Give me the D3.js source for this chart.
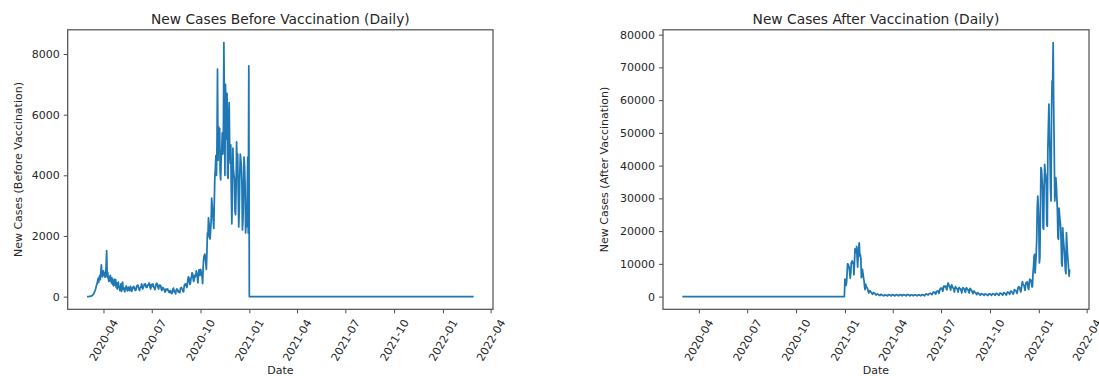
<!DOCTYPE html>
<html>
<head>
<meta charset="utf-8">
<script src="https://cdn.jsdelivr.net/npm/d3@7"></script>
<style>
  body { margin: 0; background: #ffffff; }
  svg text { font-family: "DejaVu Sans", "Liberation Sans", sans-serif; fill: #262626; }
</style>
</head>
<body>
<svg id="chart" width="1099" height="376"></svg>
<script>
// Daily new cases, one array per month (first value = 1st of the month)
const cases2020_03 = [0, 0, 2, 2, 4, 5, 9, 13, 18, 25, 38, 55, 78, 110, 150, 190, 240, 310, 380, 430, 520, 600, 470, 640, 700, 560, 820, 1050, 780, 650, 800];
const cases2020_04 = [850, 700, 780, 640, 720, 1000, 1520, 650, 800, 600, 500, 650, 520, 700, 560, 450, 620, 400, 520, 350, 580, 420, 380, 560, 300, 450, 250, 380, 480, 300];
const cases2020_05 = [330, 200, 260, 420, 170, 330, 480, 240, 300, 250, 160, 230, 300, 350, 260, 190, 210, 310, 260, 200, 280, 340, 230, 170, 210, 300, 280, 340, 300, 260, 200];
const cases2020_06 = [210, 300, 350, 380, 370, 300, 250, 200, 290, 300, 350, 420, 330, 250, 300, 350, 410, 380, 420, 330, 300, 300, 370, 380, 400, 450, 360, 300, 250, 400];
const cases2020_07 = [330, 380, 420, 370, 300, 280, 230, 310, 390, 440, 430, 390, 300, 250, 360, 380, 370, 350, 250, 200, 250, 300, 270, 250, 200, 150, 180, 250, 230, 220, 250];
const cases2020_08 = [200, 150, 180, 130, 200, 180, 120, 100, 150, 250, 280, 200, 150, 170, 90, 200, 250, 240, 220, 150, 180, 150, 130, 250, 290, 300, 250, 230, 170, 160, 320];
const cases2020_09 = [400, 370, 420, 400, 300, 350, 550, 650, 640, 500, 400, 450, 600, 650, 780, 770, 600, 500, 550, 700, 650, 690, 850, 750, 650, 450, 700, 880, 800, 700];
const cases2020_10 = [900, 850, 750, 650, 430, 1000, 1250, 1350, 1400, 1300, 1100, 900, 1450, 2100, 2000, 2600, 2400, 1950, 1900, 2200, 2500, 3250, 3000, 2800, 2500, 2250, 3150, 3950, 4200, 4650, 4000];
const cases2020_11 = [5000, 7500, 4500, 5600, 4900, 5550, 4100, 3850, 4600, 4850, 5400, 4700, 5100, 8380, 6300, 4000, 7000, 6100, 5200, 6700, 4000, 3900, 5900, 6400, 4800, 4400, 5000, 3500, 2400, 3300];
const cases2020_12 = [4900, 4200, 4000, 3900, 2800, 2700, 3500, 5100, 4200, 4700, 3500, 2300, 2800, 4000, 4700, 4500, 4300, 3800, 2200, 2500, 3400, 4600, 4300, 3700, 2100, 2500, 2300, 3300, 4600, 2100, 7610];
const cases2021_01 = [5300, 4600, 3400, 4100, 6900, 10000, 9900, 9400, 9000, 7300, 5600, 7300, 10400, 10700, 10900, 10200, 10300, 6700, 10400, 14600, 13500, 13600, 15300, 11700, 9000, 12900, 15100, 16400, 12400, 12800, 11700];
const cases2021_02 = [5800, 7900, 8300, 6900, 5800, 4900, 3000, 2100, 3800, 3300, 2900, 2600, 2300, 1500, 1100, 1700, 1800, 1500, 1400, 1200, 900, 700, 1000, 1200, 1100, 1000, 900, 600];
const cases2021_03 = [500, 700, 800, 700, 600, 500, 400, 300, 600, 700, 600, 500, 400, 300, 250, 350, 500, 400, 450, 400, 300, 200, 400, 600, 550, 500, 450, 300, 250, 400, 600];
const cases2021_04 = [500, 600, 400, 300, 200, 350, 550, 600, 550, 450, 350, 250, 400, 550, 600, 500, 550, 400, 250, 450, 600, 550, 500, 450, 300, 250, 400, 600, 650, 550];
const cases2021_05 = [500, 400, 250, 400, 550, 500, 500, 450, 300, 250, 450, 550, 500, 500, 400, 300, 250, 400, 550, 500, 550, 450, 300, 250, 450, 600, 550, 500, 500, 400, 250];
const cases2021_06 = [600, 700, 800, 750, 650, 500, 500, 850, 900, 950, 1000, 900, 700, 600, 1000, 1300, 1400, 1200, 1300, 900, 800, 1500, 1600, 1500, 1800, 1500, 1000, 1600, 2300, 2600];
const cases2021_07 = [2400, 2500, 2600, 1600, 2100, 3200, 3100, 3000, 3200, 3100, 2300, 2100, 3300, 4100, 3900, 3200, 3200, 2600, 2000, 3100, 3600, 3100, 2800, 2500, 2200, 1400, 2500, 3000, 2800, 2500, 2300];
const cases2021_08 = [2200, 1400, 2500, 2800, 2500, 2400, 2200, 1700, 1100, 2300, 2700, 2600, 2400, 2200, 1500, 1300, 2500, 2700, 2300, 2200, 2000, 1500, 1100, 2300, 2500, 2200, 1900, 1700, 1300, 900, 1500];
const cases2021_09 = [1700, 1500, 1300, 1100, 900, 600, 1100, 1200, 1000, 900, 800, 600, 400, 800, 900, 800, 700, 700, 500, 350, 650, 800, 750, 700, 600, 400, 300, 600, 800, 700];
const cases2021_10 = [800, 700, 550, 400, 700, 900, 850, 800, 700, 500, 400, 800, 1000, 900, 850, 700, 500, 400, 750, 1100, 1000, 950, 800, 600, 450, 850, 1200, 1100, 1000, 900, 600];
const cases2021_11 = [500, 1000, 1400, 1300, 1200, 1000, 700, 1200, 1700, 1600, 1500, 1300, 900, 800, 1400, 2100, 2000, 1900, 1800, 1300, 1000, 1800, 2700, 3000, 2900, 2700, 2000, 1400, 2300, 3600];
const cases2021_12 = [4600, 4000, 3600, 3400, 2800, 1900, 3300, 4300, 4000, 4500, 3800, 2500, 2200, 4300, 5300, 5000, 5100, 4100, 3000, 3000, 7100, 9000, 12300, 12900, 7200, 10000, 12800, 17100, 26900, 30700, 27100];
const cases2022_01 = [22000, 10300, 12000, 25800, 39400, 38900, 36000, 33000, 21000, 20600, 33000, 40400, 38000, 37000, 34000, 22000, 21500, 45000, 52000, 58800, 49000, 44000, 33000, 29200, 57000, 65900, 65000, 77600, 57700, 45000, 29200];
const cases2022_02 = [32000, 36300, 34000, 30000, 26000, 18000, 17500, 27000, 25000, 23000, 21500, 17000, 10000, 9300, 21000, 18000, 16000, 14000, 11000, 8000, 7000, 19500, 16000, 13000, 11000, 8500, 6200, 8300];

// Vaccination campaign start used to split the series
const vaccinationStart = "2021-01-01";

// Axis ticks
const xTickMonths = ["2020-04", "2020-07", "2020-10", "2021-01", "2021-04", "2021-07", "2021-10", "2022-01", "2022-04"];
const yTicksBefore = [0, 2000, 4000, 6000, 8000];
const yTicksAfter = [0, 10000, 20000, 30000, 40000, 50000, 60000, 70000, 80000];

const months = [
  ["2020-03", cases2020_03], ["2020-04", cases2020_04], ["2020-05", cases2020_05], ["2020-06", cases2020_06],
  ["2020-07", cases2020_07], ["2020-08", cases2020_08], ["2020-09", cases2020_09], ["2020-10", cases2020_10],
  ["2020-11", cases2020_11], ["2020-12", cases2020_12], ["2021-01", cases2021_01], ["2021-02", cases2021_02],
  ["2021-03", cases2021_03], ["2021-04", cases2021_04], ["2021-05", cases2021_05], ["2021-06", cases2021_06],
  ["2021-07", cases2021_07], ["2021-08", cases2021_08], ["2021-09", cases2021_09], ["2021-10", cases2021_10],
  ["2021-11", cases2021_11], ["2021-12", cases2021_12], ["2022-01", cases2022_01], ["2022-02", cases2022_02]
];

const parseDay = d3.timeParse("%Y-%m-%d");
const daily = [];
months.forEach(([m, vals]) => {
  const start = parseDay(m + "-01");
  vals.forEach((v, i) => daily.push({ date: d3.timeDay.offset(start, i), value: v }));
});

const vaccDate = parseDay(vaccinationStart);
const beforeSeries = daily.map(d => ({ date: d.date, value: d.date < vaccDate ? d.value : 0 }));
const afterSeries = daily.map(d => ({ date: d.date, value: d.date >= vaccDate ? d.value : 0 }));

const svg = d3.select("#chart");
const FONT_TICK = 11;
const FONT_LABEL = 11;
const FONT_TITLE = 13.8;
const INK = "#262626";
const SPINE = "#4d4d4d";

function drawPanel(cfg) {
  const { left, right, top, bottom, data, title, yLabel, yTicks, yLabelX } = cfg;
  const g = svg.append("g");

  const t0 = data[0].date, t1 = data[data.length - 1].date;
  const span = t1 - t0;
  const x = d3.scaleTime()
    .domain([new Date(+t0 - 0.05 * span), new Date(+t1 + 0.05 * span)])
    .range([left, right]);

  const vMin = d3.min(data, d => d.value), vMax = d3.max(data, d => d.value);
  const pad = (vMax - vMin) * 0.05;
  const y = d3.scaleLinear().domain([vMin - pad, vMax + pad]).range([bottom, top]);

  // data line
  const line = d3.line().x(d => x(d.date)).y(d => y(d.value));
  g.append("path")
    .datum(data)
    .attr("d", line)
    .attr("fill", "none")
    .attr("stroke", "#1f77b4")
    .attr("stroke-width", 1.75)
    .attr("stroke-linejoin", "round");

  // x axis
  const xTicks = xTickMonths.map(m => parseDay(m + "-01"));
  const xAxis = g.append("g")
    .attr("transform", `translate(0,${bottom})`)
    .call(d3.axisBottom(x).tickValues(xTicks).tickFormat(d3.timeFormat("%Y-%m")).tickSize(4).tickSizeOuter(0));
  xAxis.select(".domain").remove();
  xAxis.selectAll(".tick line").attr("stroke", SPINE).attr("stroke-width", 1);
  xAxis.selectAll(".tick text").each(function () {
    const t = d3.select(this);
    t.attr("font-size", FONT_TICK).attr("fill", INK);
    const L = this.getComputedTextLength();
    const h = FONT_TICK * 1.17;
    const a = Math.PI / 3;
    const bh = L * Math.sin(a) + h * Math.cos(a);
    const cy = 4 + 4 + bh / 2;
    t.attr("x", 0).attr("y", 0).attr("dy", null)
      .attr("text-anchor", "middle")
      .attr("dominant-baseline", "central")
      .attr("transform", `translate(0,${cy}) rotate(-60)`);
  });

  // y axis
  const yAxis = g.append("g")
    .attr("transform", `translate(${left},0)`)
    .call(d3.axisLeft(y).tickValues(yTicks).tickFormat(d3.format("d")).tickSize(4).tickPadding(4).tickSizeOuter(0));
  yAxis.select(".domain").remove();
  yAxis.selectAll(".tick line").attr("stroke", SPINE).attr("stroke-width", 1);
  yAxis.selectAll(".tick text").attr("font-size", FONT_TICK).attr("fill", INK);

  // frame
  g.append("rect")
    .attr("x", left).attr("y", top)
    .attr("width", right - left).attr("height", bottom - top)
    .attr("fill", "none").attr("stroke", SPINE).attr("stroke-width", 1.2);

  // title and labels
  g.append("text")
    .attr("x", (left + right) / 2).attr("y", top - 6)
    .attr("text-anchor", "middle").attr("font-size", FONT_TITLE)
    .text(title);
  g.append("text")
    .attr("x", (left + right) / 2).attr("y", 374)
    .attr("text-anchor", "middle").attr("font-size", FONT_LABEL)
    .text("Date");
  g.append("text")
    .attr("transform", `translate(${yLabelX},${(top + bottom) / 2}) rotate(-90)`)
    .attr("text-anchor", "middle").attr("dominant-baseline", "central")
    .attr("font-size", FONT_LABEL)
    .text(yLabel);
}

drawPanel({
  left: 67.7, right: 493, top: 29.8, bottom: 309.3,
  data: beforeSeries,
  title: "New Cases Before Vaccination (Daily)",
  yLabel: "New Cases (Before Vaccination)",
  yTicks: yTicksBefore,
  yLabelX: 18
});

drawPanel({
  left: 663, right: 1089, top: 29.8, bottom: 309.3,
  data: afterSeries,
  title: "New Cases After Vaccination (Daily)",
  yLabel: "New Cases (After Vaccination)",
  yTicks: yTicksAfter,
  yLabelX: 604
});
</script>
</body>
</html>
